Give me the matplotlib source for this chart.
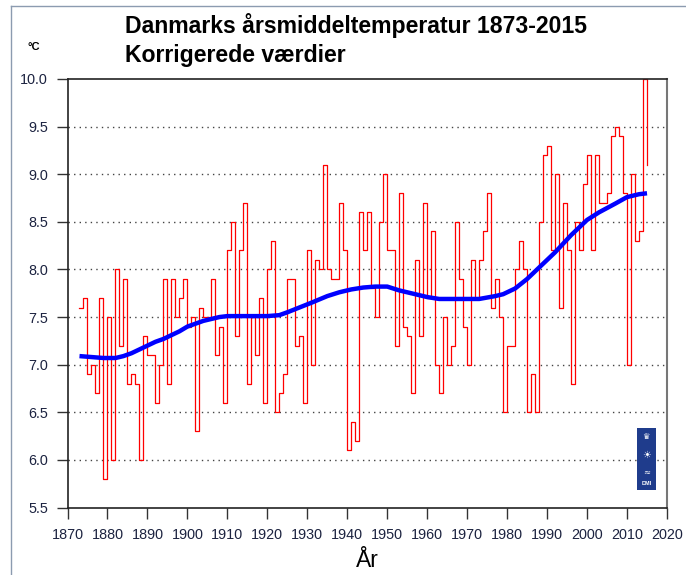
import matplotlib
matplotlib.use("Agg")
import matplotlib.pyplot as plt
from matplotlib.lines import Line2D
from matplotlib.patches import Rectangle

plt.rcParams['font.family'] = ['Liberation Sans', 'DejaVu Sans']

# ---------------- data ----------------
years = list(range(1873, 2016))
temps = [
    7.6, 7.7, 6.9, 7.0, 6.7, 7.7, 5.8,                      # 1873-1879
    7.5, 6.0, 8.0, 7.2, 7.9, 6.8, 6.9, 6.8, 6.0, 7.3,       # 1880-1889
    7.1, 7.1, 6.6, 7.0, 7.9, 6.8, 7.9, 7.5, 7.7, 7.9,       # 1890-1899
    7.4, 7.5, 6.3, 7.6, 7.5, 7.5, 7.9, 7.1, 7.4, 6.6,       # 1900-1909
    8.2, 8.5, 7.3, 8.2, 8.7, 6.8, 7.5, 7.1, 7.7, 6.6,       # 1910-1919
    8.0, 8.3, 6.5, 6.7, 6.9, 7.9, 7.9, 7.2, 7.3, 6.6,       # 1920-1929
    8.2, 7.0, 8.1, 8.0, 9.1, 8.0, 7.9, 7.9, 8.7, 8.2,       # 1930-1939
    6.1, 6.4, 6.2, 8.6, 8.2, 8.6, 7.8, 7.5, 8.5, 9.0,       # 1940-1949
    8.2, 8.2, 7.2, 8.8, 7.4, 7.3, 6.7, 8.1, 7.3, 8.7,       # 1950-1959
    7.7, 8.4, 7.0, 6.7, 7.5, 7.0, 7.2, 8.5, 7.9, 7.4,       # 1960-1969
    7.0, 8.1, 7.7, 8.1, 8.4, 8.8, 7.6, 7.9, 7.5, 6.5,       # 1970-1979
    7.2, 7.2, 8.0, 8.3, 8.0, 6.5, 6.9, 6.5, 8.5, 9.2,       # 1980-1989
    9.3, 8.2, 9.0, 7.6, 8.7, 8.2, 6.8, 8.5, 8.2, 8.9,       # 1990-1999
    9.2, 8.2, 9.2, 8.7, 8.7, 8.8, 9.4, 9.5, 9.4, 8.8,       # 2000-2009
    7.0, 9.0, 8.3, 8.4, 10.0, 9.1,                          # 2010-2015
]

trend_years = [1873, 1876, 1879, 1882, 1884, 1886, 1888, 1890, 1892, 1894,
               1896, 1898, 1900, 1902, 1904, 1906, 1908, 1910, 1915, 1920,
               1923, 1925, 1928, 1931, 1935, 1938, 1941, 1944, 1947, 1950,
               1953, 1957, 1960, 1963, 1968, 1973, 1977, 1979, 1982, 1985,
               1988, 1992, 1996, 2000, 2003, 2007, 2010, 2013, 2015]
trend_vals = [7.09, 7.08, 7.07, 7.07, 7.09, 7.12, 7.16, 7.20, 7.24, 7.27,
              7.31, 7.35, 7.40, 7.43, 7.46, 7.48, 7.50, 7.51, 7.51, 7.51,
              7.52, 7.55, 7.60, 7.65, 7.72, 7.76, 7.79, 7.81, 7.82, 7.82,
              7.78, 7.74, 7.71, 7.69, 7.69, 7.69, 7.72, 7.74, 7.80, 7.90,
              8.02, 8.18, 8.36, 8.52, 8.60, 8.69, 8.76, 8.79, 8.80]

x_ticks = list(range(1870, 2021, 10))
y_ticks = [5.5, 6.0, 6.5, 7.0, 7.5, 8.0, 8.5, 9.0, 9.5, 10.0]
grid_levels = [6.0, 6.5, 7.0, 7.5, 8.0, 8.5, 9.0, 9.5]

title_line1 = "Danmarks årsmiddeltemperatur 1873-2015"
title_line2 = "Korrigerede værdier"
unit_text = "°C"
xlabel_text = "År"

# ---------------- figure ----------------
W, H = 686, 575
fig = plt.figure(figsize=(W / 100, H / 100), dpi=100)
fig.patch.set_facecolor('white')

left_px, right_px, top_px, bottom_px = 67.5, 667.0, 79.0, 507.5
ax = fig.add_axes([left_px / W, 1 - bottom_px / H,
                   (right_px - left_px) / W, (bottom_px - top_px) / H])

ax.set_xlim(1870, 2020)
ax.set_ylim(5.5, 10.0)

for g in grid_levels:
    ax.axhline(g, color='#444444', lw=1.0, linestyle=(0, (1, 3)), zorder=1)

ax.step(years, temps, where='post', color='#ff0000', lw=0.9, zorder=2)
ax.plot(trend_years, trend_vals, color='#0000ff', lw=3.2, zorder=3,
        solid_capstyle='butt', solid_joinstyle='round')

ax.set_xticks(x_ticks)
ax.set_yticks(y_ticks)
ax.set_yticklabels([f"{v:.1f}" for v in y_ticks])
ax.tick_params(axis='both', direction='out', length=8, width=1.0,
               color='#333333', labelsize=10.4, labelcolor='#1c2340', pad=6)
ax.tick_params(axis='x', pad=7)

for side in ['left', 'bottom', 'top']:
    ax.spines[side].set_color('#222222')
    ax.spines[side].set_linewidth(1.2)
ax.spines['right'].set_color('#777777')
ax.spines['right'].set_linewidth(1.5)

# DMI logo (decorative)
ax.add_patch(Rectangle((0.950, 0.041), 0.031, 0.145, transform=ax.transAxes,
                       facecolor='#1f3c8c', edgecolor='none', zorder=4))
ax.text(0.9655, 0.165, "♛", transform=ax.transAxes, color='white',
        fontsize=6, ha='center', va='center', zorder=5, family='DejaVu Sans')
ax.text(0.9655, 0.122, "☀", transform=ax.transAxes, color='white',
        fontsize=7, ha='center', va='center', zorder=5, family='DejaVu Sans')
ax.text(0.9655, 0.085, "≈", transform=ax.transAxes, color='white',
        fontsize=6, ha='center', va='center', zorder=5, family='DejaVu Sans')
ax.text(0.9655, 0.056, "DMI", transform=ax.transAxes, color='white',
        fontsize=4, ha='center', va='center', zorder=5, fontweight='bold')

# texts
fig.text(125 / W, 1 - 33.5 / H, title_line1, fontsize=16.6, fontweight='bold',
         ha='left', va='baseline', color='black')
fig.text(125 / W, 1 - 62 / H, title_line2, fontsize=16.6, fontweight='bold',
         ha='left', va='baseline', color='black')
fig.text(27 / W, 1 - 50 / H, unit_text, fontsize=8, fontweight='bold',
         ha='left', va='baseline', color='black')
fig.text((left_px + right_px) / 2 / W, 1 - 567 / H, xlabel_text, fontsize=16.5,
         ha='center', va='baseline', color='black')

# figure border (top and left)
fig.add_artist(Line2D([11 / W, 1], [1 - 6 / H, 1 - 6 / H], color='#8c9bb0',
                      lw=1.0, transform=fig.transFigure))
fig.add_artist(Line2D([11 / W, 11 / W], [0, 1 - 6 / H], color='#8c9bb0',
                      lw=1.0, transform=fig.transFigure))

fig.savefig('out.png', dpi=100, facecolor='white')
